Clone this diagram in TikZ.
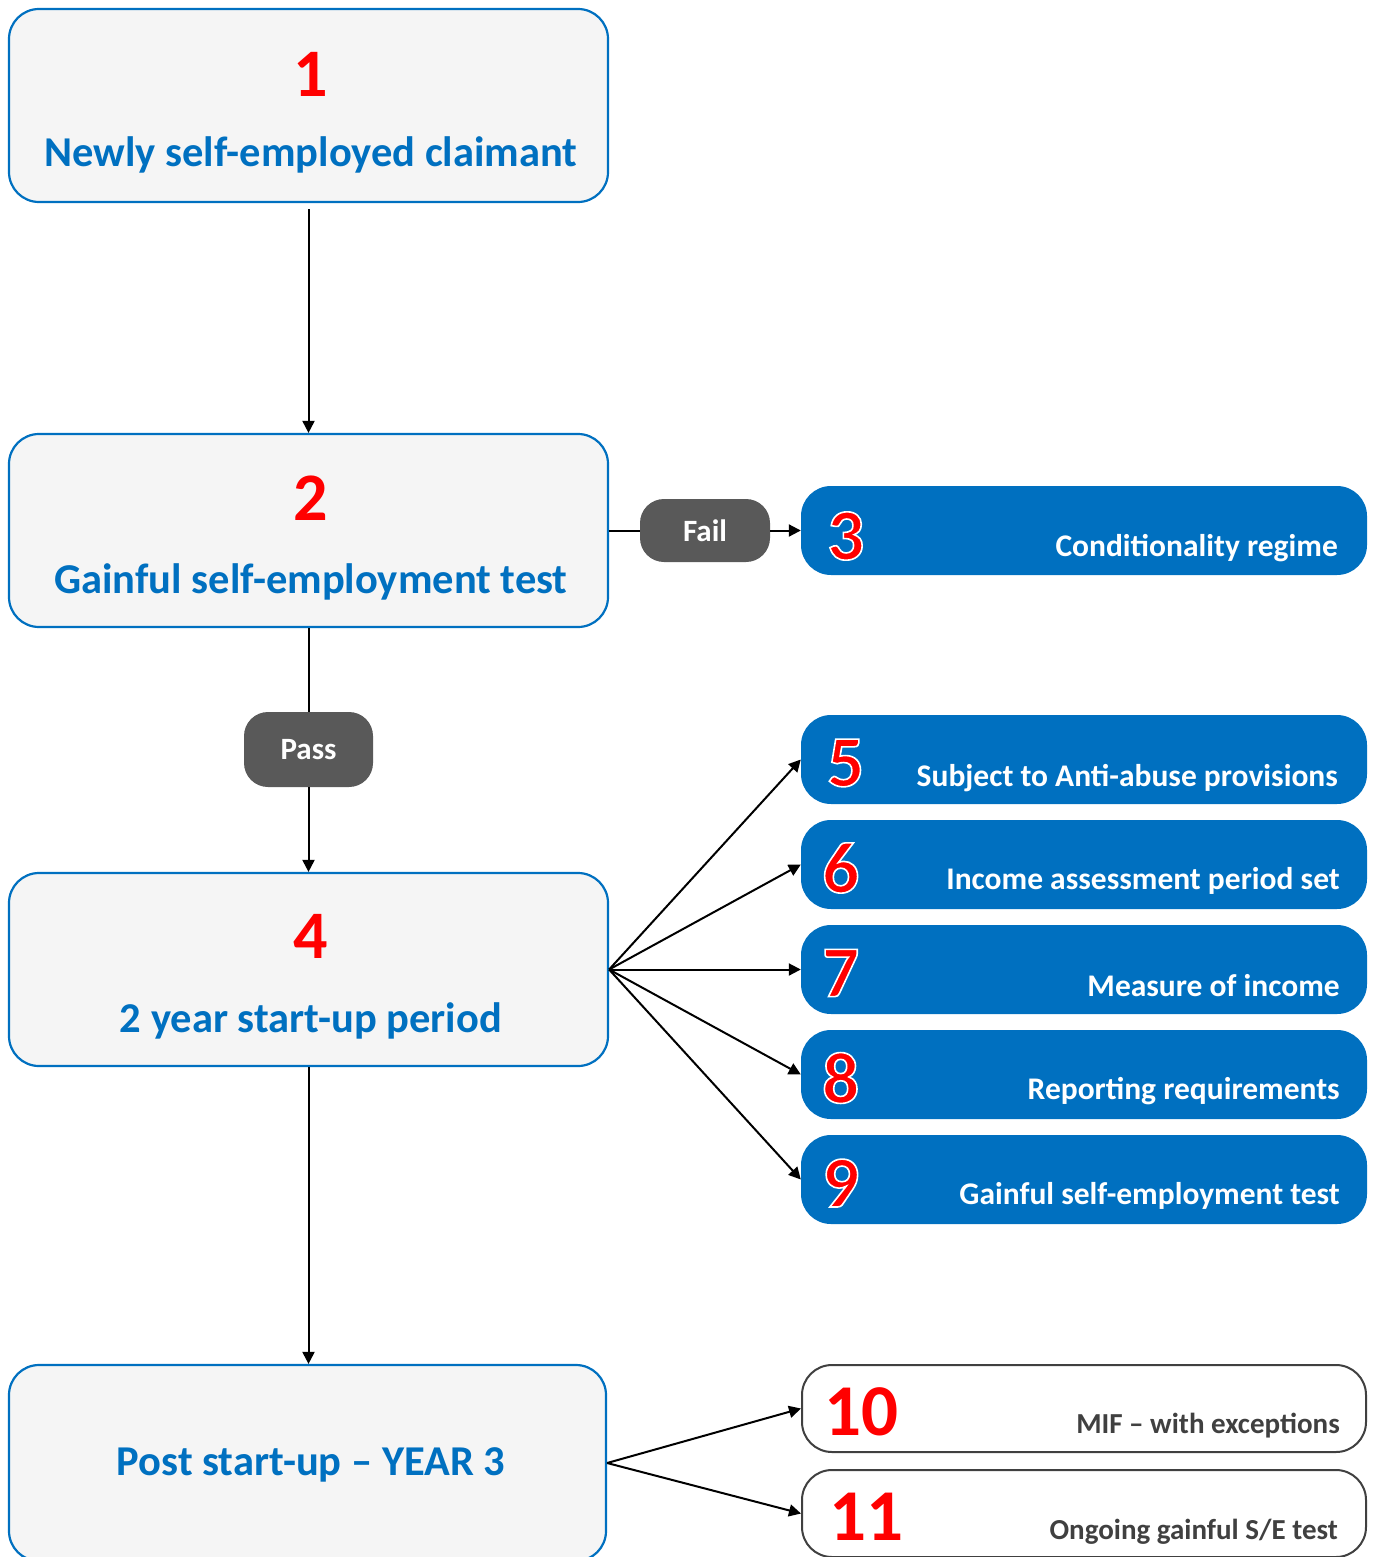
\documentclass[tikz,border=0pt]{standalone}
\usepackage{fontspec}
\setmainfont{Carlito}
\usetikzlibrary{arrows.meta}
\definecolor{mblue}{HTML}{0070C0}
\definecolor{mred}{HTML}{FF0000}
\definecolor{mgray}{HTML}{595959}
\definecolor{mfill}{HTML}{F5F5F5}
\definecolor{mdark}{HTML}{404040}
\newcommand{\outl}[1]{\special{pdf:literal direct 1 1 1 RG 2 Tr 1.6 w}#1\special{pdf:literal direct 0 Tr}}
\begin{document}
\begin{tikzpicture}[x=1pt,y=-1pt,
  bigbox/.style={draw=mblue,line width=2.2pt,fill=mfill,rounded corners=30pt,inner sep=0pt},
  bluebox/.style={fill=mblue,rounded corners=30pt,inner sep=0pt,minimum width=566pt,minimum height=89pt},
  whitebox/.style={draw=mdark,line width=2pt,fill=white,rounded corners=30pt,inner sep=0pt,minimum width=564pt,minimum height=87pt},
  pill/.style={fill=mgray,rounded corners=24pt,inner sep=0pt,text=white,font=\bfseries\fontsize{31}{33}\selectfont},
  bignum/.style={text=mred,font=\bfseries\fontsize{68}{70}\selectfont,inner sep=0pt},
  rnum/.style={text=mred,font=\bfseries\fontsize{73}{75}\selectfont,inner sep=0pt,anchor=west},
  bluelab/.style={text=mblue,font=\bfseries\fontsize{42.5}{44}\selectfont,inner sep=0pt},
  rlab/.style={text=white,font=\bfseries\fontsize{31.5}{33}\selectfont,inner sep=0pt,anchor=east},
  dlab/.style={text=mdark,font=\bfseries\fontsize{29}{31}\selectfont,inner sep=0pt,anchor=east},
  arr/.style={line width=2pt,-{Triangle[length=12pt,width=12pt]}},
  ln/.style={line width=2pt}]
\useasboundingbox (0,0) rectangle (1375,1557);
% left boxes
\node[bigbox,minimum width=599pt,minimum height=193pt] (b1) at (308.5,105.5) {};
\node[bigbox,minimum width=599pt,minimum height=193pt] (b2) at (308.5,530.5) {};
\node[bigbox,minimum width=599pt,minimum height=193pt] (b4) at (308.5,969.5) {};
\node[bigbox,minimum width=597pt,minimum height=196pt] (b12) at (307.5,1463) {};
\node[bignum] (n1) at (311,74) {1};
\node[bluelab] (l1) at (311,155) {Newly self-employed claimant};
\node[bignum] (n2) at (311,498) {2};
\node[bluelab] (l2) at (311,582) {Gainful self-employment test};
\node[bignum] (n4) at (311,936) {4};
\node[bluelab] (l4) at (311,1021) {2 year start-up period};
\node[bluelab] (l12) at (311,1465) {Post start-up -- YEAR 3};
% right blue boxes
\node[bluebox] (b3) at (1084,530.5) {};
\node[bluebox] (b5) at (1084,759.5) {};
\node[bluebox] (b6) at (1084,864.5) {};
\node[bluebox] (b7) at (1084,969.5) {};
\node[bluebox] (b8) at (1084,1074.5) {};
\node[bluebox] (b9) at (1084,1179.5) {};
\node[rnum] (n3) at (827,536) {\outl{3}};
\node[rlab] (l3) at (1338,548) {Conditionality regime};
\node[rnum] (n5) at (827,763) {\outl{5}};
\node[rlab] (l5) at (1338,778) {Subject to Anti-abuse provisions};
\node[rnum] (n6) at (822,868) {\outl{6}};
\node[rlab] (l6) at (1340,881) {Income assessment period set};
\node[rnum] (n7) at (822,973) {\outl{7}};
\node[rlab] (l7) at (1340,986) {Measure of income};
\node[rnum] (n8) at (822,1078) {\outl{8}};
\node[rlab] (l8) at (1340,1091) {Reporting requirements};
\node[rnum] (n9) at (822,1183) {\outl{9}};
\node[rlab] (l9) at (1340,1196) {Gainful self-employment test};
% white boxes
\node[whitebox] (b10) at (1084,1408.5) {};
\node[whitebox] (b11) at (1084,1513.5) {};
\node[rnum] (n10) at (824,1412) {10};
\node[dlab] (l10) at (1340,1426) {MIF -- with exceptions};
\node[rnum] (n11) at (829,1517) {11};
\node[dlab] (l11) at (1338,1532) {Ongoing gainful S/E test};
% pills
\node[pill,minimum width=130pt,minimum height=63pt] (fail) at (705,530.5) {Fail};
\node[pill,minimum width=129pt,minimum height=75pt] (pass) at (308.5,749.5) {Pass};
% connectors
\coordinate (s1) at ([yshift=-6pt]b1.south);
\draw[arr] (s1) -- (b2.north);
\draw[ln] (b2.east) -- (fail.west);
\draw[arr] (fail.east) -- (b3.west);
\draw[ln] (b2.south) -- (pass.north);
\draw[arr] (pass.south) -- (b4.north);
\draw[arr] (b4.east) -- (b5.west);
\draw[arr] (b4.east) -- (b6.west);
\draw[arr] (b4.east) -- (b7.west);
\draw[arr] (b4.east) -- (b8.west);
\draw[arr] (b4.east) -- (b9.west);
\draw[arr] (b4.south) -- (b4.south |- b12.north);
\draw[arr] (b12.east) -- (b10.west);
\draw[arr] (b12.east) -- (b11.west);
\end{tikzpicture}
\end{document}
